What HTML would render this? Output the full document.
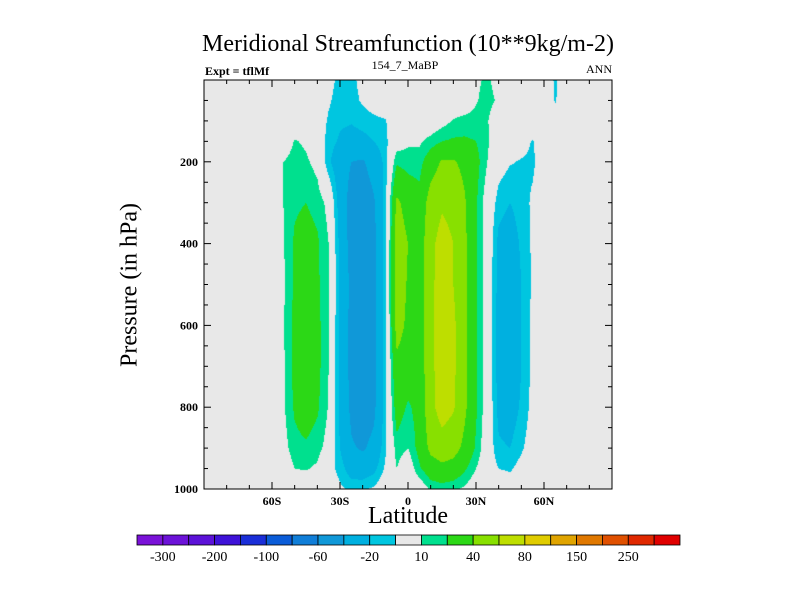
<!DOCTYPE html>
<html><head><meta charset="utf-8"><style>
body{margin:0;background:#fff;}
#wrap{position:relative;width:800px;height:600px;font-family:"Liberation Serif",serif;color:#000;}
.t{position:absolute;white-space:nowrap;}
</style></head><body>
<div id="wrap">
<div class="t" style="left:0;width:816px;text-align:center;top:31px;font-size:24px;">Meridional Streamfunction (10**9kg/m-2)</div>
<div class="t" style="left:205px;top:64px;font-size:12px;font-weight:bold;">Expt = tflMf</div>
<div class="t" style="left:305px;width:200px;text-align:center;top:58px;font-size:12px;">154_7_MaBP</div>
<div class="t" style="left:552px;width:60px;text-align:right;top:62px;font-size:12px;">ANN</div>
<canvas id="cv" width="408" height="409" style="position:absolute;left:204px;top:80px;"></canvas>
<svg id="ax" width="800" height="600" style="position:absolute;left:0;top:0;"></svg>
<div class="t" style="left:130px;top:285px;font-size:24px;transform:translate(-50%,-50%) rotate(-90deg);">Pressure (in hPa)</div>
<div class="t" style="left:308px;width:200px;text-align:center;top:503px;font-size:24px;">Latitude</div>
</div>
<script>
const lats=[-90,-85,-80,-75,-70,-65,-60,-55,-50,-45,-40,-35,-30,-25,-20,-15,-10,-5,0,5,10,15,20,25,30,35,40,45,50,55,60,65,70,75,80,85,90];
const pressures=[0,50,100,150,200,300,400,500,600,700,800,900,950,1000];
// rows per pressure level, columns for lat -60..65 (index offset 6); other columns are 0
const row0  =[0,0,0,0,0,-5,-14,-14,-5,0,0,0,0,0,0,0,0,0,8,12,5,0,0,0,0,-12];
const row50 =[0,0,0,0,0,-8,-16,-15,-8,-3,0,0,0,0,0,0,0,0,9,14,8,0,0,0,0,-11];
const row100=[0,0,0,0,0,-12,-18,-19,-16,-13,-11,0,0,0,0,5,11,14,14,11,0,0,0,0,0,-5];
const row150=[0,0,11,8,0,-15,-22,-25,-24,-20,-13,2,8,8,14,20,22,22,20,12,0,0,-5,-11,0,0];
const row200=[0,10,15,12,6,-18,-30,-40,-42,-32,-16,18,15,15,30,42,42,35,25,10,-4,-9,-11,-12,-3,0];
const row300=[0,10,18,20,16,6,-28,-48,-52,-42,-14,44,32,25,50,58,55,42,22,2,-15,-20,-15,-8,0,0];
const row400=[0,9,22,26,22,10,-24,-48,-56,-46,-14,52,40,28,56,66,60,44,22,2,-24,-28,-18,-8,0,0];
const row500=[0,8,22,28,22,12,-22,-45,-55,-45,-12,52,38,30,55,70,60,45,22,2,-25,-30,-20,-8,0,0];
const row600=[0,9,24,30,24,10,-24,-46,-55,-45,-13,48,36,28,55,70,64,45,22,2,-26,-32,-20,-7,0,0];
const row700=[0,8,24,30,24,10,-24,-46,-55,-45,-13,35,30,28,55,70,64,45,22,2,-26,-32,-20,-7,0,0];
const row800=[0,8,22,28,22,9,-24,-44,-52,-44,-14,28,18,25,55,68,62,44,22,2,-24,-28,-18,-6,0,0];
const row900=[0,5,16,18,14,5,-20,-38,-42,-35,-12,15,10,25,45,52,48,35,18,0,-18,-20,-12,-3,0,0];
const row950=[0,0,10,11,8,-5,-14,-28,-30,-24,-8,10,0,18,30,35,32,22,10,0,-10,-12,-5,0,0,0];
const row1000=[0,0,0,0,0,0,-8,-12,-12,-8,0,0,0,0,12,14,12,8,0,0,0,0,0,0,0,0];
const rows=[row0,row50,row100,row150,row200,row300,row400,row500,row600,row700,row800,row900,row950,row1000];
const levels=[-300,-250,-200,-150,-100,-80,-60,-40,-20,-10,10,20,40,60,80,100,150,200,250,300];
const colors=["#7a12d8","#6c12d8","#5c12d8","#3e12d8","#1a2ed8","#0a5cd8","#107ed8","#1098d8","#00b0e0","#00c6e0","#e8e8e8","#00e08e","#2cd816","#88e000","#bede00","#e0cc00","#e0a400","#e07800","#e05000","#e02800","#e00000"];
const tickLats=[-60,-30,0,30,60];
const tickLatLabels=["60S","30S","0","30N","60N"];
const tickP=[200,400,600,800,1000];
const cbLabels=["-300","-200","-100","-60","-20","10","40","80","150","250"];

const X0=204,X1=612,Y0=80,Y1=489;
const xOf=l=>X0+(l+90)/180*(X1-X0);
const yOf=p=>Y0+p/1000*(Y1-Y0);
function grid(li,pi){const j=li-6;return (j>=0&&j<rows[pi].length)?rows[pi][j]:0;}
function interp(lat,p){
  let i=Math.min(lats.length-2,Math.max(0,Math.floor((lat+90)/5)));
  let k=0;while(k<pressures.length-2&&p>pressures[k+1])k++;
  const tx=(lat-lats[i])/5,ty=(p-pressures[k])/(pressures[k+1]-pressures[k]);
  const a=grid(i,k),b=grid(i+1,k),c=grid(i,k+1),d=grid(i+1,k+1);
  return (a*(1-tx)+b*tx)*(1-ty)+(c*(1-tx)+d*tx)*ty;
}
function colorOf(v){let i=0;while(i<levels.length&&v>=levels[i])i++;return colors[i];}
const cv=document.getElementById('cv'),ctx=cv.getContext('2d');
for(let py=0;py<409;py++){for(let px=0;px<408;px++){
  const lat=(px+0.5)/408*180-90,p=(py+0.5)/409*1000;
  ctx.fillStyle=colorOf(interp(lat,p));ctx.fillRect(px,py,1,1);}}

const NS="http://www.w3.org/2000/svg",svg=document.getElementById('ax');
function mk(t,a){const e=document.createElementNS(NS,t);for(const k in a)e.setAttribute(k,a[k]);svg.appendChild(e);return e;}
const fr=mk('rect',{x:X0,y:Y0,width:X1-X0,height:Y1-Y0,fill:'none',stroke:'#000','stroke-width':1});


for(let l=-80;l<=80;l+=10){const x=xOf(l),len=(l%30===0)?7:4;
  mk('line',{x1:x,y1:Y1,x2:x,y2:Y1-len,stroke:'#000'});mk('line',{x1:x,y1:Y0,x2:x,y2:Y0+len,stroke:'#000'});}
for(let p=50;p<1000;p+=50){const y=yOf(p),len=(p%200===0)?7:4;
  mk('line',{x1:X0,y1:y,x2:X0+len,y2:y,stroke:'#000'});mk('line',{x1:X1,y1:y,x2:X1-len,y2:y,stroke:'#000'});}
tickLats.forEach((l,i)=>{const t=mk('text',{x:xOf(l),y:Y1+16,'text-anchor':'middle','font-size':12,'font-weight':'bold','font-family':'Liberation Serif, serif'});t.textContent=tickLatLabels[i];

});
tickP.forEach(p=>{const t=mk('text',{x:X0-6,y:yOf(p)+4,'text-anchor':'end','font-size':12,'font-weight':'bold','font-family':'Liberation Serif, serif'});t.textContent=p;

});
const CB0=137,CB1=680,bw=(CB1-CB0)/colors.length;
colors.forEach((c,i)=>{const r=mk('rect',{x:CB0+i*bw,y:535,width:bw,height:10,fill:c,stroke:'#000','stroke-width':0.8});

});
cbLabels.forEach((s,i)=>{const t=mk('text',{x:CB0+(2*i+1)*bw,y:561,'text-anchor':'middle','font-size':14,'font-family':'Liberation Serif, serif'});t.textContent=s;

});
</script>
</body></html>
